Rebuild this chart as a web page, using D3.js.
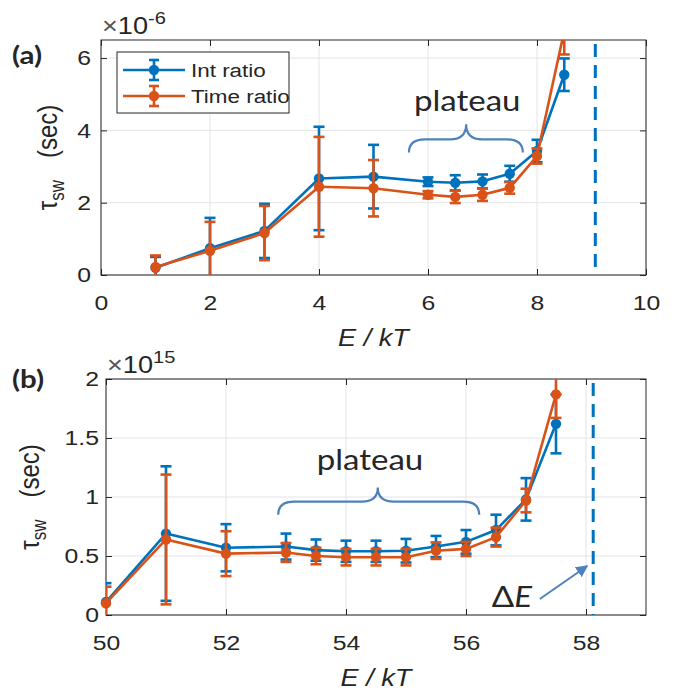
<!DOCTYPE html>
<html>
<head>
<meta charset="utf-8">
<script src="https://cdn.jsdelivr.net/npm/d3@7"></script>
<style>
  body { margin: 0; background: #fff; }
  svg { display: block; }
  text { font-family: "Liberation Sans", Arial, sans-serif; fill: #262626; }
</style>
</head>
<body>
<script>
// panel (a): tau_sw in units of 1e-6 s
const energyA = [1, 2, 3, 4, 5, 6, 6.5, 7, 7.5, 8, 8.5]
const intA = [0.2, 0.74, 1.22, 2.67, 2.72, 2.58, 2.55, 2.59, 2.8, 3.43, 5.54]
const intErrA = [0.3, 0.84, 0.75, 1.43, 0.88, 0.12, 0.21, 0.19, 0.22, 0.31, 0.45]
const timeA = [0.22, 0.67, 1.16, 2.44, 2.4, 2.22, 2.16, 2.22, 2.41, 3.29, 6.75]
const timeErrA = [0.32, 0.8, 0.75, 1.38, 0.78, 0.1, 0.17, 0.17, 0.16, 0.21, 0.65]
const xTicksA = [0, 2, 4, 6, 8, 10]
const yTicksA = [0, 2, 4, 6]
const deltaEA = 9.07

// panel (b): tau_sw in units of 1e15 s
const energyB = [50, 51, 52, 53, 53.5, 54, 54.5, 55, 55.5, 56, 56.5, 57, 57.5]
const intB = [0.11, 0.69, 0.57, 0.58, 0.55, 0.54, 0.54, 0.545, 0.58, 0.62, 0.72, 0.98, 1.62]
const intErrB = [0.16, 0.57, 0.2, 0.11, 0.09, 0.09, 0.09, 0.1, 0.09, 0.1, 0.13, 0.18, 0.25]
const timeB = [0.1, 0.64, 0.52, 0.53, 0.5, 0.49, 0.49, 0.49, 0.545, 0.56, 0.66, 0.97, 1.87]
const timeErrB = [0.14, 0.55, 0.19, 0.08, 0.07, 0.07, 0.07, 0.07, 0.07, 0.06, 0.08, 0.1, 0.2]
const xTicksB = [50, 52, 54, 56, 58]
const yTicksB = [0, 0.5, 1, 1.5, 2]
const deltaEB = 58.12

const seriesNames = ["Int ratio", "Time ratio"]

const W = 685, H = 692
const SX = 1.18   // the figure is stretched horizontally
const blue = "#0072BD", orange = "#D95319", annot = "#4f81bd", axisCol = "#262626"

const svg = d3.select("body").append("svg")
    .attr("width", W)
    .attr("height", H)

svg.append("defs").append("marker")
    .attr("id", "arrow")
    .attr("viewBox", "0 0 10 10")
    .attr("refX", 9).attr("refY", 5)
    .attr("markerWidth", 6).attr("markerHeight", 6)
    .attr("orient", "auto")
  .append("path")
    .attr("d", "M0,0 L10,5 L0,10 z")
    .attr("fill", annot)

function stretched(g, x, y, size, anchor) {
    return g.append("text")
        .attr("transform", "translate(" + x + "," + y + ") scale(" + SX + ",1)")
        .attr("text-anchor", anchor || "start")
        .style("font-size", size + "px")
}

function drawPanel(p) {
    const g = svg.append("g")
    const x = d3.scaleLinear().domain(p.xDomain).range([p.left, p.right])
    const y = d3.scaleLinear().domain(p.yDomain).range([p.bottom, p.top])

    svg.select("defs").append("clipPath").attr("id", "clip" + p.tag)
      .append("rect")
        .attr("x", p.left).attr("y", p.top)
        .attr("width", p.right - p.left).attr("height", p.bottom - p.top)

    // grid
    g.append("g").selectAll("line").data(p.xTicks).join("line")
        .attr("x1", d => x(d)).attr("x2", d => x(d))
        .attr("y1", p.top).attr("y2", p.bottom)
        .attr("stroke", "#e4e4e4")
    g.append("g").selectAll("line").data(p.yTicks).join("line")
        .attr("y1", d => y(d)).attr("y2", d => y(d))
        .attr("x1", p.left).attr("x2", p.right)
        .attr("stroke", "#e4e4e4")

    // axes, ticks pointing inward on all four sides
    const fmt = d => String(d)
    const axes = [
        g.append("g").attr("transform", "translate(0," + p.bottom + ")")
            .call(d3.axisBottom(x).tickValues(p.xTicks).tickSize(-6).tickSizeOuter(0).tickPadding(20).tickFormat(fmt)),
        g.append("g").attr("transform", "translate(0," + p.top + ")")
            .call(d3.axisTop(x).tickValues(p.xTicks).tickSize(-6).tickSizeOuter(0).tickFormat("")),
        g.append("g").attr("transform", "translate(" + p.left + ",0)")
            .call(d3.axisLeft(y).tickValues(p.yTicks).tickSize(-6).tickSizeOuter(0).tickPadding(p.yPad / SX).tickFormat(fmt)),
        g.append("g").attr("transform", "translate(" + p.right + ",0)")
            .call(d3.axisRight(y).tickValues(p.yTicks).tickSize(-6).tickSizeOuter(0).tickFormat(""))
    ]
    axes.forEach(a => {
        a.select(".domain").remove()
        a.selectAll(".tick line").attr("stroke", axisCol)
        a.selectAll("text")
            .attr("fill", axisCol)
            .style("font-size", "21px")
            .style("font-family", "'Liberation Sans', Arial, sans-serif")
            .attr("transform", "scale(" + SX + ",1)")
    })

    g.append("rect")
        .attr("x", p.left).attr("y", p.top)
        .attr("width", p.right - p.left).attr("height", p.bottom - p.top)
        .attr("fill", "none")
        .attr("stroke", axisCol)

    // dashed Delta E line
    g.append("line")
        .attr("x1", x(p.deltaE)).attr("x2", x(p.deltaE))
        .attr("y1", p.top + 4).attr("y2", p.bottom)
        .attr("stroke", blue)
        .attr("stroke-width", 3)
        .attr("stroke-dasharray", "13,8")

    // series with error bars
    p.series.forEach(s => {
        const pts = p.xs.map((d, i) => ({ x: d, v: s.vals[i], e: s.errs[i] }))
        const clipped = g.append("g").attr("clip-path", "url(#clip" + p.tag + ")")
        clipped.append("path")
            .datum(pts)
            .attr("fill", "none")
            .attr("stroke", s.color)
            .attr("stroke-width", 2.6)
            .attr("stroke-linejoin", "round")
            .attr("d", d3.line().x(d => x(d.x)).y(d => y(d.v)))
        const bars = clipped.selectAll(".bar").data(pts).join("g")
            .attr("stroke", s.color)
            .attr("stroke-width", 2.6)
        bars.append("line")
            .attr("x1", d => x(d.x)).attr("x2", d => x(d.x))
            .attr("y1", d => y(d.v - d.e)).attr("y2", d => y(d.v + d.e))
        bars.append("line")
            .attr("x1", d => x(d.x) - 5.5).attr("x2", d => x(d.x) + 5.5)
            .attr("y1", d => y(d.v - d.e)).attr("y2", d => y(d.v - d.e))
        bars.append("line")
            .attr("x1", d => x(d.x) - 5.5).attr("x2", d => x(d.x) + 5.5)
            .attr("y1", d => y(d.v + d.e)).attr("y2", d => y(d.v + d.e))
        g.append("g").selectAll("circle")
            .data(pts.filter(d => d.v <= p.yDomain[1]))
            .join("circle")
            .attr("cx", d => x(d.x))
            .attr("cy", d => y(d.v))
            .attr("r", 5.2)
            .attr("fill", s.color)
    })

    // exponent label
    const ex = stretched(g, p.left + 1, p.top - 6, 23)
    ex.append("tspan").attr("fill", "#555").text("\u00d7")
    ex.append("tspan").text("10")
    ex.append("tspan").attr("dy", -10).style("font-size", "17px").text(p.exponent)

    // panel tag
    stretched(g, 12, p.tagY, 25)
        .style("font-family", "Lato, 'Open Sans', sans-serif")
        .style("font-weight", "bold")
        .attr("fill", "#000")
        .text("(" + p.tag + ")")

    // y label
    const yl = g.append("text")
        .attr("transform", "translate(" + p.yLabelX + "," + ((p.top + p.bottom) / 2) + ") scale(" + SX + ",1) rotate(-90)")
        .attr("text-anchor", "middle")
        .style("font-size", "24px")
    yl.append("tspan").text("\u03c4")
    yl.append("tspan").attr("dy", 6).style("font-size", "17px").text("sw")
    yl.append("tspan").attr("dy", -6).attr("dx", 22).text("(sec)")

    // x label
    stretched(g, (p.left + p.right) / 2, p.bottom + 71, 23, "middle")
        .style("font-style", "italic")
        .text("E / kT")

    // plateau annotation
    stretched(g, x(p.plateau.tx), y(p.plateau.ty), 28, "middle")
        .style("font-family", "Lato, 'Open Sans', sans-serif")
        .attr("fill", "#000")
        .text("plateau")
    const b = p.plateau
    const x0 = x(b.x0), x1 = x(b.x1), xc = x(b.xc)
    const yE = y(b.yEnd), yM = y(b.yMid), yP = y(b.yPeak), r = 16
    g.append("path")
        .attr("d", "M" + x0 + "," + yE + " Q" + x0 + "," + yM + " " + (x0 + r) + "," + yM +
            " L" + (xc - r) + "," + yM + " Q" + xc + "," + yM + " " + xc + "," + yP +
            " Q" + xc + "," + yM + " " + (xc + r) + "," + yM +
            " L" + (x1 - r) + "," + yM + " Q" + x1 + "," + yM + " " + x1 + "," + yE)
        .attr("fill", "none")
        .attr("stroke", annot)
        .attr("stroke-width", 2.2)

    if (p.legend) {
        const lg = g.append("g").attr("transform", "translate(" + (p.left + 16) + "," + (p.top + 12) + ")")
        lg.append("rect")
            .attr("width", 172).attr("height", 61)
            .attr("fill", "#fff").attr("stroke", axisCol)
        p.series.forEach((s, i) => {
            const ly = 18 + i * 26
            lg.append("line").attr("x1", 6).attr("x2", 68).attr("y1", ly).attr("y2", ly)
                .attr("stroke", s.color).attr("stroke-width", 2.6)
            lg.append("line").attr("x1", 37).attr("x2", 37).attr("y1", ly - 10).attr("y2", ly + 10)
                .attr("stroke", s.color).attr("stroke-width", 2.6)
            lg.append("line").attr("x1", 32).attr("x2", 42).attr("y1", ly - 10).attr("y2", ly - 10)
                .attr("stroke", s.color).attr("stroke-width", 2.6)
            lg.append("line").attr("x1", 32).attr("x2", 42).attr("y1", ly + 10).attr("y2", ly + 10)
                .attr("stroke", s.color).attr("stroke-width", 2.6)
            lg.append("circle").attr("cx", 37).attr("cy", ly).attr("r", 5.2).attr("fill", s.color)
            stretched(lg, 74, ly + 7, 19).attr("fill", "#000").text(s.name)
        })
    }

    if (p.arrow) {
        const a = p.arrow
        const t = stretched(g, x(a.tx), y(a.ty), 28)
            .style("font-family", "Lato, 'Open Sans', sans-serif")
            .attr("fill", "#000")
        t.append("tspan").text("\u0394")
        t.append("tspan").style("font-style", "italic").text("E")
        g.append("line")
            .attr("x1", x(a.x0)).attr("y1", y(a.y0))
            .attr("x2", x(a.x1)).attr("y2", y(a.y1))
            .attr("stroke", annot)
            .attr("stroke-width", 2)
            .attr("marker-end", "url(#arrow)")
    }
}

drawPanel({
    tag: "a", tagY: 64,
    left: 101, right: 646, top: 40, bottom: 275,
    xDomain: [0, 10], yDomain: [0, 6.5],
    xTicks: xTicksA, yTicks: yTicksA, yPad: 10, yLabelX: 57,
    xs: energyA,
    series: [
        { name: seriesNames[0], vals: intA, errs: intErrA, color: blue },
        { name: seriesNames[1], vals: timeA, errs: timeErrA, color: orange }
    ],
    deltaE: deltaEA, exponent: "-6", legend: true,
    plateau: { tx: 6.72, ty: 4.53, x0: 5.65, x1: 7.74, xc: 6.7, yEnd: 3.39, yMid: 3.75, yPeak: 4.17 }
})

drawPanel({
    tag: "b", tagY: 388,
    left: 106, right: 646, top: 379, bottom: 615,
    xDomain: [50, 59], yDomain: [0, 2],
    xTicks: xTicksB, yTicks: yTicksB, yPad: 7, yLabelX: 39,
    xs: energyB,
    series: [
        { name: seriesNames[0], vals: intB, errs: intErrB, color: blue },
        { name: seriesNames[1], vals: timeB, errs: timeErrB, color: orange }
    ],
    deltaE: deltaEB, exponent: "15", legend: false,
    plateau: { tx: 54.4, ty: 1.23, x0: 52.87, x1: 56.22, xc: 54.53, yEnd: 0.85, yMid: 0.96, yPeak: 1.08 },
    arrow: { tx: 56.43, ty: 0.068, x0: 57.23, y0: 0.136, x1: 58.02, y1: 0.415 }
})
</script>
</body>
</html>
